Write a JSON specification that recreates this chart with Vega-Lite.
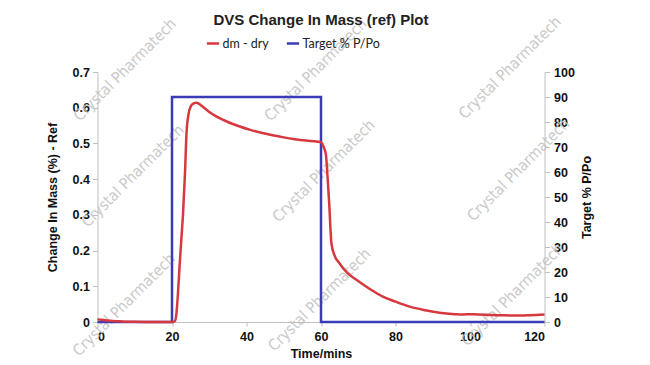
{
  "$schema": "https://vega.github.io/schema/vega-lite/v6.json",
  "autosize": {"type": "none"},
  "width": 447,
  "height": 250,
  "padding": {"left": 97.5, "top": 72, "right": 105.5, "bottom": 43},
  "background": "white",
  "title": {
    "text": "DVS Change In Mass (ref) Plot",
    "anchor": "middle",
    "font": "Liberation Sans",
    "fontSize": 15,
    "fontWeight": "bold",
    "color": "#222222",
    "offset": -14
  },
  "datasets": {
    "dm": [
      {"time": 0, "value": 0.008}, {"time": 1, "value": 0.006}, {"time": 2, "value": 0.005},
      {"time": 4, "value": 0.003}, {"time": 6, "value": 0.002}, {"time": 8, "value": 0.001},
      {"time": 10, "value": 0.0005}, {"time": 15, "value": 0}, {"time": 20, "value": 0},
      {"time": 20.8, "value": 0.003}, {"time": 21.2, "value": 0.025}, {"time": 21.6, "value": 0.08},
      {"time": 22.0, "value": 0.15}, {"time": 22.5, "value": 0.23}, {"time": 23.0, "value": 0.31},
      {"time": 23.5, "value": 0.42}, {"time": 23.9, "value": 0.53}, {"time": 24.4, "value": 0.58},
      {"time": 25.0, "value": 0.603}, {"time": 25.8, "value": 0.612}, {"time": 26.6, "value": 0.614},
      {"time": 28, "value": 0.605}, {"time": 30, "value": 0.588}, {"time": 32, "value": 0.575},
      {"time": 35, "value": 0.56}, {"time": 38, "value": 0.548}, {"time": 41, "value": 0.538},
      {"time": 44, "value": 0.53}, {"time": 47, "value": 0.523}, {"time": 50, "value": 0.517},
      {"time": 53, "value": 0.512}, {"time": 56, "value": 0.508}, {"time": 59, "value": 0.505},
      {"time": 60.1, "value": 0.503}, {"time": 60.7, "value": 0.49}, {"time": 61.3, "value": 0.47},
      {"time": 61.8, "value": 0.4}, {"time": 62.2, "value": 0.332}, {"time": 62.8, "value": 0.22},
      {"time": 63.5, "value": 0.19}, {"time": 65.0, "value": 0.164}, {"time": 67, "value": 0.138},
      {"time": 69.5, "value": 0.118}, {"time": 73, "value": 0.093}, {"time": 76.6, "value": 0.071},
      {"time": 80, "value": 0.057}, {"time": 83.8, "value": 0.043}, {"time": 88, "value": 0.033},
      {"time": 91.8, "value": 0.026}, {"time": 96, "value": 0.022}, {"time": 98, "value": 0.021},
      {"time": 100, "value": 0.022}, {"time": 102, "value": 0.021}, {"time": 104.3, "value": 0.02},
      {"time": 108, "value": 0.019}, {"time": 112.4, "value": 0.018}, {"time": 116, "value": 0.019},
      {"time": 120, "value": 0.021}
    ],
    "target": [
      {"time": 0, "pct": 0}, {"time": 20, "pct": 0}, {"time": 20, "pct": 90},
      {"time": 60, "pct": 90}, {"time": 60, "pct": 0}, {"time": 120, "pct": 0}
    ],
    "marks": [
      {"time": 7.4, "value": 0.706, "label": "Crystal Pharmatech"},
      {"time": 58.6, "value": 0.706, "label": "Crystal Pharmatech"},
      {"time": 110.7, "value": 0.712, "label": "Crystal Pharmatech"},
      {"time": 9.5, "value": 0.409, "label": "Crystal Pharmatech"},
      {"time": 60.7, "value": 0.423, "label": "Crystal Pharmatech"},
      {"time": 113, "value": 0.426, "label": "Crystal Pharmatech"},
      {"time": 7.1, "value": 0.048, "label": "Crystal Pharmatech"},
      {"time": 59.6, "value": 0.062, "label": "Crystal Pharmatech"},
      {"time": 111.4, "value": 0.076, "label": "Crystal Pharmatech"}
    ]
  },
  "config": {
    "view": {"stroke": null},
    "axis": {
      "grid": false,
      "domainColor": "#bfbfbf",
      "tickColor": "#bfbfbf",
      "tickSize": 5,
      "labelFont": "Liberation Sans",
      "labelFontSize": 12.5,
      "labelFontWeight": "bold",
      "labelColor": "#111111",
      "titleFont": "Liberation Sans",
      "titleFontSize": 12.5,
      "titleFontWeight": "bold",
      "titleColor": "#111111"
    },
    "legend": {
      "labelFont": "Lato",
      "labelFontSize": 12.5,
      "labelColor": "#222222"
    }
  },
  "encoding": {
    "x": {
      "field": "time", "type": "quantitative",
      "scale": {"domain": [0, 120], "nice": false},
      "axis": {"values": [0, 20, 40, 60, 80, 100, 120], "title": "Time/mins", "tickSize": 4, "labelPadding": 4, "titlePadding": 5}
    }
  },
  "layer": [
    {
      "data": {"name": "marks"},
      "mark": {"type": "text", "angle": -45, "font": "DejaVu Sans Condensed", "fontSize": 15.5, "color": "#c4c4c4", "opacity": 0.9},
      "encoding": {
        "y": {"field": "value", "type": "quantitative", "scale": {"domain": [0, 0.7], "nice": false}, "axis": null},
        "text": {"field": "label"}
      }
    },
    {
      "data": {"name": "target"},
      "mark": {"type": "line", "strokeWidth": 2.5},
      "encoding": {
        "y": {
          "field": "pct", "type": "quantitative",
          "scale": {"domain": [0, 100], "nice": false},
          "axis": {"orient": "right", "values": [0, 10, 20, 30, 40, 50, 60, 70, 80, 90, 100], "title": "Target % P/Po", "titleAngle": -90, "titleBaseline": "top", "labelPadding": 4, "titlePadding": 6}
        },
        "color": {
          "datum": "Target % P/Po",
          "type": "nominal",
          "scale": {"domain": ["dm - dry", "Target % P/Po"], "range": ["#d6383e", "#3b3bb8"]},
          "legend": {"orient": "none", "direction": "horizontal", "title": null, "legendX": 108, "legendY": -36, "symbolType": "stroke", "symbolStrokeWidth": 2.5, "symbolSize": 150, "columnPadding": 12, "labelOffset": 2}
        },
        "order": {"field": "time"}
      }
    },
    {
      "data": {"name": "dm"},
      "mark": {"type": "line", "strokeWidth": 2.5, "interpolate": "monotone"},
      "encoding": {
        "y": {
          "field": "value", "type": "quantitative",
          "scale": {"domain": [0, 0.7], "nice": false},
          "axis": {"orient": "left", "values": [0, 0.1, 0.2, 0.3, 0.4, 0.5, 0.6, 0.7], "labelExpr": "datum.value == 0 ? '0' : format(datum.value, '.1f')", "title": "Change In Mass (%) - Ref", "labelPadding": 3, "titlePadding": 13}
        },
        "color": {"datum": "dm - dry", "type": "nominal"}
      }
    }
  ],
  "resolve": {"scale": {"y": "independent"}}
}
